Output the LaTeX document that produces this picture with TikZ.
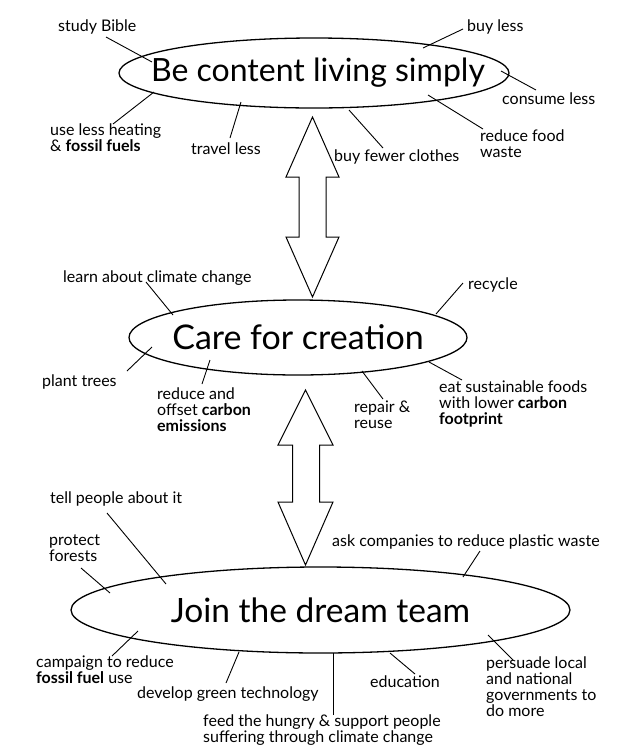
\documentclass[tikz,border=0pt]{standalone}
\usepackage{fontspec}
\setmainfont{Lato}
\usetikzlibrary{shapes.geometric}
\tikzset{
  lbl/.style={inner sep=0pt, anchor=base west, align=left, font=\fontsize{16}{16}\selectfont},
  mlbl/.style={inner sep=0pt, anchor=north west, align=left, font=\fontsize{16}{16}\selectfont},
  topic/.style={ellipse, draw, line width=1.3pt, inner sep=0pt},
  title/.style={inner sep=0pt},
  lead/.style={line width=0.9pt},
  bigarrow/.style={draw, line width=1pt, line join=miter}
}
\begin{document}
\begin{tikzpicture}[x=1pt,y=-1pt]
\useasboundingbox[fill=white] (0,0) rectangle (640,756);

% topics
\node[topic, minimum width=390pt, minimum height=70pt] (e1) at (314,73) {};
\node[title, font=\fontsize{32}{34}\selectfont] (e1t) at ([xshift=4pt]e1.center) {Be content living simply};
\node[topic, minimum width=338pt, minimum height=75pt] (e2) at (298,337.5) {};
\node[title, font=\fontsize{34}{36}\selectfont] (e2t) at (e2.center) {Care for creation};
\node[topic, minimum width=499pt, minimum height=86pt] (e3) at (320.5,610) {};
\node[title, font=\fontsize{33.5}{36}\selectfont] (e3t) at (e3.center) {Join the dream team};

% double arrows
\draw[bigarrow] (312.5,117) -- (339,177) -- (326,177) -- (326,237) -- (339,237) -- (312.5,297)
  -- (286,237) -- (299,237) -- (299,177) -- (286,177) -- cycle;
\draw[bigarrow] (305.5,390) -- (333,445) -- (319.5,445) -- (319.5,502) -- (333,502) -- (305.5,565)
  -- (278,502) -- (292.5,502) -- (292.5,445) -- (278,445) -- cycle;

% ---- top labels
\node[lbl] (t1) at (58,31.5) {study Bible};
\node[lbl] (t2) at (467,31.5) {buy less};
\node[lbl] (t3) at (502,104.5) {consume less};
\node[mlbl] (t4) at (480,130) {reduce food\\waste};
\node[lbl] (t5) at (334,161.5) {buy fewer clothes};
\node[lbl] (t6) at (191,154.5) {travel less};
\node[mlbl] (t7) at (50,124) {use less heating\\\& \textbf{fossil fuels}};

\coordinate (t1a) at (106,37);  \coordinate (t1b) at (152,62);
\coordinate (t2a) at (463,29);  \coordinate (t2b) at (423,48);
\coordinate (t3a) at (536,90);  \coordinate (t3b) at (501,71);
\coordinate (t4a) at (483,129); \coordinate (t4b) at (428,95);
\coordinate (t5a) at (383,148); \coordinate (t5b) at (349,110);
\coordinate (t6a) at (230,138); \coordinate (t6b) at (241,102);
\coordinate (t7a) at (113,124); \coordinate (t7b) at (154,92);
\foreach \k in {1,...,7} \draw[lead] (t\k a) -- (t\k b);

% ---- middle labels
\node[lbl] (m1) at (63,282.5) {learn about climate change};
\node[lbl] (m2) at (468,289.5) {recycle};
\node[lbl] (m3) at (42,386.5) {plant trees};
\node[mlbl] (m4) at (157,388) {reduce and\\offset \textbf{carbon}\\\textbf{emissions}};
\node[mlbl] (m5) at (354,401) {repair \&\\reuse};
\node[mlbl] (m6) at (439,381) {eat sustainable foods\\with lower \textbf{carbon}\\\textbf{footprint}};

\coordinate (m1a) at (146,282); \coordinate (m1b) at (173,315);
\coordinate (m2a) at (463,283); \coordinate (m2b) at (436,314);
\coordinate (m3a) at (127,371); \coordinate (m3b) at (152,347);
\coordinate (m4a) at (202,384); \coordinate (m4b) at (210,360);
\coordinate (m5a) at (383,399); \coordinate (m5b) at (362,371);
\coordinate (m6a) at (462,380); \coordinate (m6b) at (429,362);
\foreach \k in {1,...,6} \draw[lead] (m\k a) -- (m\k b);

% ---- bottom labels
\node[lbl] (b1) at (50,503.5) {tell people about it};
\node[mlbl] (b2) at (49,535) {protect\\forests};
\node[lbl] (b3) at (332,546.5) {ask companies to reduce plastic waste};
\node[mlbl] (b4) at (36,656) {campaign to reduce\\\textbf{fossil fuel} use};
\node[lbl] (b5) at (137,698.5) {develop green technology};
\node[mlbl] (b6) at (203,715) {feed the hungry \& support people\\suffering through climate change};
\node[lbl] (b7) at (370,687.5) {education};
\node[mlbl] (b8) at (486,657) {persuade local\\and national\\governments to\\do more};

\coordinate (b1a) at (107,513); \coordinate (b1b) at (166,584);
\coordinate (b2a) at (81,568);  \coordinate (b2b) at (110,593);
\coordinate (b3a) at (480,551); \coordinate (b3b) at (463,577);
\coordinate (b4a) at (112,656); \coordinate (b4b) at (138,631);
\coordinate (b5a) at (226,683); \coordinate (b5b) at (239,652);
\coordinate (b6a) at (333,715); \coordinate (b6b) at (333,653);
\coordinate (b7a) at (415,674); \coordinate (b7b) at (390,653);
\coordinate (b8a) at (513,660); \coordinate (b8b) at (488,635);
\foreach \k in {1,...,8} \draw[lead] (b\k a) -- (b\k b);
\end{tikzpicture}
\end{document}
